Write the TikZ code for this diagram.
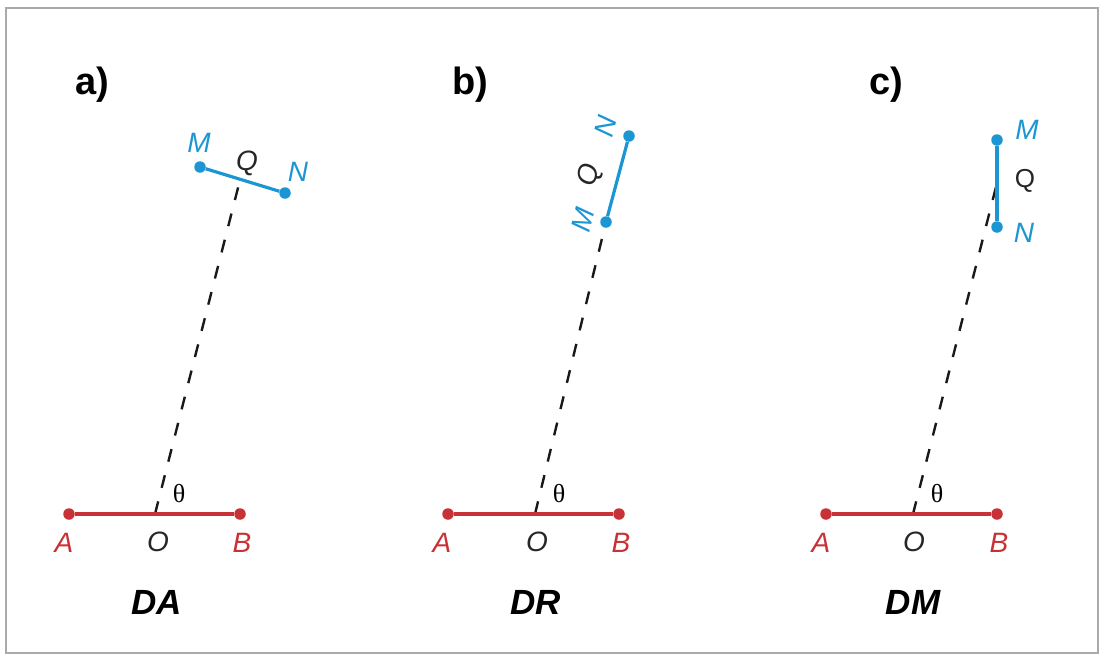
\documentclass[tikz,border=0pt]{standalone}
\usepackage{fontspec}
\setmainfont{Liberation Sans}
\newfontfamily\thfont{Liberation Serif}
\definecolor{redc}{RGB}{200,50,54}
\definecolor{bluec}{RGB}{28,150,210}
\definecolor{framec}{RGB}{170,170,170}
\begin{document}
\begin{tikzpicture}[x=1pt,y=-1pt,
  redline/.style={draw=redc, line width=3.6},
  blueline/.style={draw=bluec, line width=3.2},
  dashline/.style={draw=black!90, line width=2.4, dash pattern=on 13 off 14},
  rdot/.style={circle, fill=redc, inner sep=0, minimum size=11.5},
  bdot/.style={circle, fill=bluec, inner sep=0, minimum size=11.5},
  lbl/.style={inner sep=0, font=\fontsize{28}{28}\selectfont\itshape},
  rlbl/.style={lbl, text=redc},
  blbl/.style={lbl, text=bluec},
  olbl/.style={lbl, text=black!85},
  thlbl/.style={inner sep=0, font=\fontsize{26}{26}\selectfont\thfont},
  head/.style={inner sep=0, font=\fontsize{38}{38}\selectfont\bfseries},
  title/.style={inner sep=0, font=\fontsize{35}{35}\selectfont\bfseries\itshape}]
\useasboundingbox (0,0) rectangle (1101,659);
\draw[framec, line width=1.8] (6,8) rectangle (1098,653);

% ---------- panel a ----------
\coordinate (Oa) at (155,514);
\coordinate (Qa) at (240,180);
\draw[dashline] (Oa) -- (Qa);
\node[rdot] (Aa) at (69,514) {};
\node[rdot] (Ba) at (240,514) {};
\draw[redline] (Aa) -- (Ba);
\node[bdot] (Ma) at (200,167) {};
\node[bdot] (Na) at (285,193) {};
\draw[blueline] (Ma) -- (Na);
\node[rlbl] (lAa) at (64,543) {A};
\node[rlbl] (lBa) at (242,543) {B};
\node[olbl] (lOa) at (158,542) {O};
\node[thlbl] (tha) at (179,494) {θ};
\node[blbl] (lMa) at (199,143) {M};
\node[blbl] (lNa) at (298,172) {N};
\node[olbl] (lQa) at (247,163) {Q};
\node[head] (ha) at (92,85) {a)};
\node[title] (ta) at (157,602) {DA};

% ---------- panel b ----------
\coordinate (Ob) at (535,514);
\coordinate (Qb) at (606,222);
\draw[dashline] (Ob) -- (Qb);
\node[rdot] (Ab) at (448,514) {};
\node[rdot] (Bb) at (619,514) {};
\draw[redline] (Ab) -- (Bb);
\node[bdot] (Mb) at (606,222) {};
\node[bdot] (Nb) at (629,136) {};
\draw[blueline] (Mb) -- (Nb);
\node[rlbl] (lAb) at (442,543) {A};
\node[rlbl] (lBb) at (621,543) {B};
\node[olbl] (lOb) at (537,542) {O};
\node[thlbl] (thb) at (559,494) {θ};
\node[blbl, rotate=76] (lMb) at (583,220) {M};
\node[blbl, rotate=76] (lNb) at (606,126) {N};
\node[olbl, rotate=76] (lQb) at (590,175) {Q};
\node[head] (hb) at (470,85) {b)};
\node[title] (tb) at (536,602) {DR};

% ---------- panel c ----------
\coordinate (Oc) at (913,514);
\coordinate (Qc) at (997,183);
\draw[dashline] (Oc) -- (Qc);
\node[rdot] (Ac) at (826,514) {};
\node[rdot] (Bc) at (997,514) {};
\draw[redline] (Ac) -- (Bc);
\node[bdot] (Mc) at (997,140) {};
\node[bdot] (Nc) at (997,227) {};
\draw[blueline] (Mc) -- (Nc);
\node[rlbl] (lAc) at (821,543) {A};
\node[rlbl] (lBc) at (999,543) {B};
\node[olbl] (lOc) at (914,542) {O};
\node[thlbl] (thc) at (937,494) {θ};
\node[blbl] (lMc) at (1027,130) {M};
\node[lbl, font=\fontsize{26}{26}\selectfont\upshape, text=black!85] (lQc) at (1025,181) {Q};
\node[blbl] (lNc) at (1024,233) {N};
\node[head] (hc) at (886,85) {c)};
\node[title] (tc) at (913,602) {DM};
\end{tikzpicture}
\end{document}
